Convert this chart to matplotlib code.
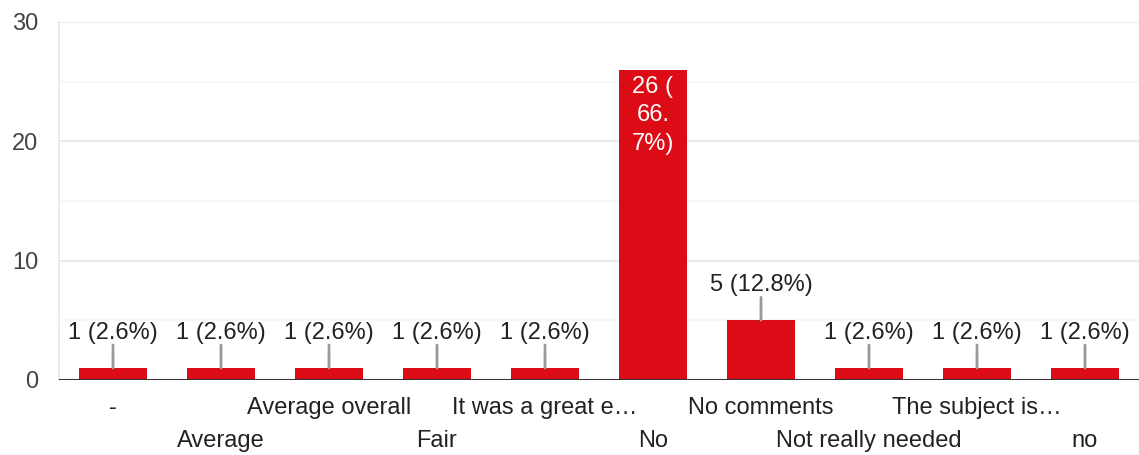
import matplotlib
matplotlib.use("Agg")
import matplotlib.pyplot as plt

categories = ["-", "Average", "Average overall", "Fair", "It was a great e\u2026", "No",
              "No comments", "Not really needed", "The subject is\u2026", "no"]
counts = [1, 1, 1, 1, 1, 26, 5, 1, 1, 1]
labels = ["1 (2.6%)", "1 (2.6%)", "1 (2.6%)", "1 (2.6%)", "1 (2.6%)", "26 (\n66.\n7%)",
          "5 (12.8%)", "1 (2.6%)", "1 (2.6%)", "1 (2.6%)"]
yticks = [0, 10, 20, 30]

plt.rcParams['font.family'] = ['Liberation Sans', 'DejaVu Sans']

W, H = 1139, 455
fig = plt.figure(figsize=(W / 100, H / 100), dpi=100)
left, right, top, bottom = 59, 1139, 22, 380
ax = fig.add_axes([left / W, 1 - bottom / H, (right - left) / W, (bottom - top) / H])

FS = 17
bar_color = '#dc0c17'
x = list(range(len(categories)))
ax.bar(x, counts, width=0.63, color=bar_color, zorder=3)
ax.set_xlim(-0.5, len(categories) - 0.5)
ax.set_ylim(0, 30)

# gridlines
for v in [5, 15, 25]:
    ax.axhline(v, color='#f6f6f6', lw=1.2, zorder=1)
for v in [10, 20, 30]:
    ax.axhline(v, color='#ebebeb', lw=1.5, zorder=1)
ax.axhline(0, color='#333333', lw=2.2, zorder=4)

for s in ['top', 'right', 'bottom']:
    ax.spines[s].set_visible(False)
ax.spines['left'].set_color('#ebebeb')
ax.spines['left'].set_linewidth(1.5)

ax.set_yticks(yticks)
ax.set_yticklabels([str(v) for v in yticks], fontsize=FS, color='#444444')
ax.tick_params(axis='y', length=0, pad=15)
ax.set_xticks([])

# staggered category labels
for i, c in enumerate(categories):
    yoff = -28 if i % 2 == 0 else -61
    ax.annotate(c, (i, 0), xytext=(0, yoff), textcoords='offset pixels',
                ha='center', va='center', fontsize=FS, color='#222222',
                annotation_clip=False)

# value labels
for i, (v, lab) in enumerate(zip(counts, labels)):
    if v >= 20:
        ax.annotate(lab, (i, v), xytext=(0, -6), textcoords='offset pixels',
                    ha='center', va='top', fontsize=FS, color='white',
                    linespacing=1.38, zorder=5)
    else:
        ax.annotate('', (i, v), xytext=(0, 23), textcoords='offset pixels',
                    arrowprops=dict(arrowstyle='-', color='#999999', lw=2,
                                    shrinkA=0, shrinkB=0), zorder=5)
        ax.annotate(lab, (i, v), xytext=(0, 35), textcoords='offset pixels',
                    ha='center', va='center', fontsize=FS, color='#222222',
                    zorder=5)

fig.savefig('out.png', dpi=100)
